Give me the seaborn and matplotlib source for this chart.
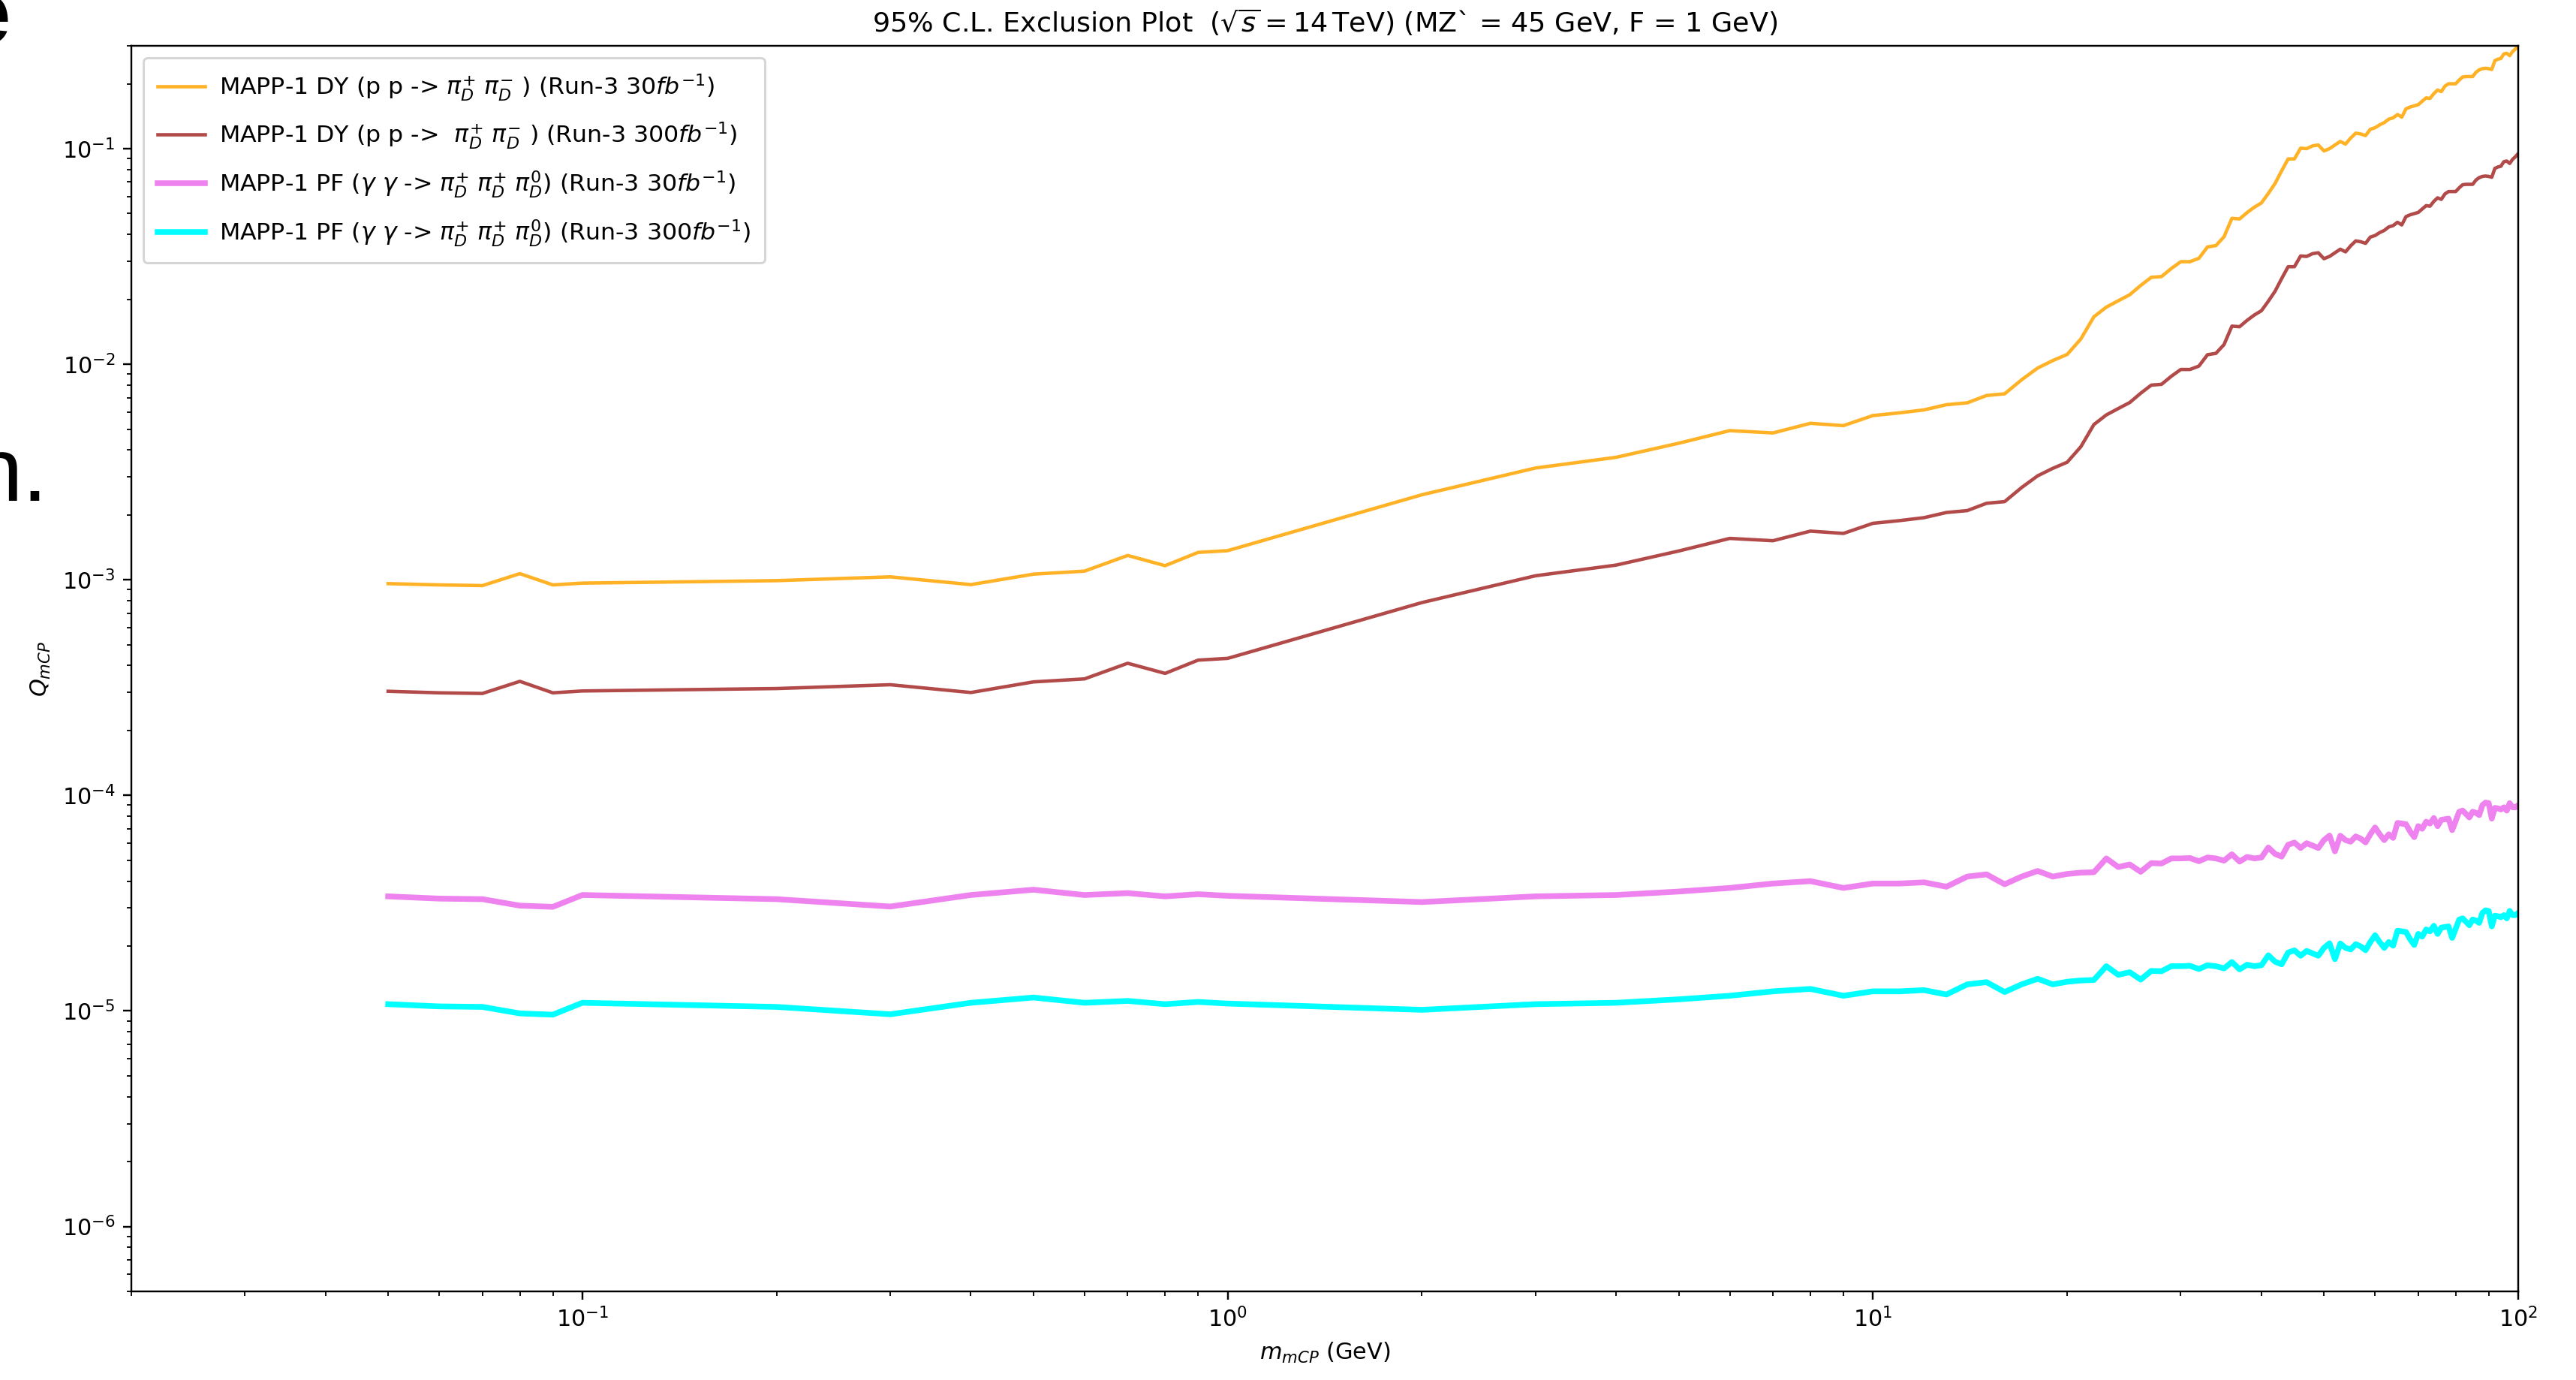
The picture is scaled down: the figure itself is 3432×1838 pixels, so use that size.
import numpy as np
import pandas as pd
import matplotlib
matplotlib.use("Agg")
import matplotlib.pyplot as plt
import seaborn as sns

# Mass grid (GeV)
mass_low = [0.05, 0.06, 0.07, 0.08, 0.09, 0.1, 0.2, 0.3, 0.4, 0.5, 0.6, 0.7, 0.8,
            0.9, 1.0, 2, 3, 4, 5, 6, 7, 8, 9]
mass_high = list(range(10, 101))
mass = mass_low + mass_high

# DY, Run-3 30 fb^-1 (units of 1e-3)
dy_30_low = [0.960, 0.947, 0.940, 1.068, 0.947, 0.965, 0.991, 1.032, 0.950, 1.062,
             1.097, 1.297, 1.163, 1.340, 1.365, 2.48, 3.30, 3.70, 4.30, 4.92, 4.80,
             5.32, 5.19]
dy_30_high = [5.78,
              5.95, 6.14, 6.49, 6.62, 7.16, 7.29, 8.47, 9.60, 10.4, 11.1,
              13.1, 16.6, 18.4, 19.7, 21.0, 23.2, 25.3, 25.5, 27.8, 29.9,
              29.9, 31.0, 35.0, 35.5, 39.0, 47.5, 47.2, 50.5, 53.5, 56.0,
              62.0, 69.0, 79.0, 89.6, 89.6, 100.5, 100.0, 103.0, 104.0, 97.6,
              100.0, 104.0, 108.0, 105.0, 112.0, 118.0, 117.0, 115.0, 123.0, 125.0,
              129.0, 132.0, 137.0, 139.0, 144.0, 140.0, 153.0, 156.0, 158.0, 160.0,
              166.0, 172.0, 171.0, 180.0, 187.0, 184.0, 195.0, 200.0, 200.0, 200.0,
              208.0, 215.0, 216.0, 216.0, 216.0, 226.0, 232.0, 235.0, 236.0, 235.0,
              233.0, 256.0, 260.0, 262.0, 275.0, 277.0, 270.0, 282.0, 290.0, 300.0]

# DY, Run-3 300 fb^-1 (units of 1e-3)
dy_300_low = [0.304, 0.299, 0.297, 0.338, 0.299, 0.305, 0.313, 0.326, 0.300, 0.336,
              0.347, 0.410, 0.368, 0.424, 0.432, 0.784, 1.044, 1.170, 1.360, 1.556,
              1.518, 1.682, 1.641]
dy_300_high = [1.828,
               1.882, 1.942, 2.052, 2.094, 2.264, 2.305, 2.679, 3.036, 3.289, 3.510,
               4.143, 5.250, 5.819, 6.230, 6.641, 7.337, 8.001, 8.065, 8.792, 9.456,
               9.456, 9.804, 11.07, 11.23, 12.33, 15.02, 14.93, 15.97, 16.92, 17.71,
               19.61, 21.82, 24.98, 28.34, 28.34, 31.78, 31.63, 32.57, 32.89, 30.87,
               31.63, 32.89, 34.16, 33.21, 35.42, 37.32, 37.00, 36.37, 38.90, 39.53,
               40.80, 41.75, 43.33, 43.96, 45.54, 44.28, 48.39, 49.34, 49.97, 50.60,
               52.50, 54.40, 54.08, 56.93, 59.14, 58.19, 61.67, 63.25, 63.25, 63.25,
               65.78, 68.00, 68.31, 68.31, 68.31, 71.47, 73.37, 74.32, 74.64, 74.32,
               73.69, 80.96, 82.23, 82.86, 86.97, 87.60, 85.39, 89.18, 91.71, 94.88]

# PF, Run-3 30 fb^-1 (units of 1e-5)
pf_30_low = [3.40, 3.32, 3.30, 3.08, 3.04, 3.45, 3.30, 3.05, 3.45, 3.65, 3.45, 3.52,
             3.40, 3.48, 3.42, 3.20, 3.40, 3.45, 3.58, 3.72, 3.90, 4.00, 3.72]
pf_30_high = [3.90,
              3.90, 3.95, 3.77, 4.20, 4.30, 3.87, 4.20, 4.46, 4.20, 4.32,
              4.38, 4.40, 5.10, 4.65, 4.78, 4.42, 4.85, 4.83, 5.10, 5.10,
              5.12, 4.95, 5.15, 5.10, 4.98, 5.33, 4.93, 5.18, 5.10, 5.15,
              5.73, 5.35, 5.20, 5.90, 6.04, 5.70, 6.00, 5.85, 5.70, 6.20,
              6.51, 5.50, 6.50, 6.20, 6.10, 6.45, 6.30, 6.05, 6.60, 7.10,
              6.60, 6.20, 6.60, 6.35, 7.45, 7.40, 7.35, 6.80, 6.40, 7.20,
              7.00, 7.55, 7.40, 7.85, 7.20, 7.70, 7.75, 7.80, 6.90, 7.60,
              8.39, 8.50, 8.20, 7.90, 8.40, 8.30, 8.10, 9.00, 9.26, 9.20,
              7.80, 8.75, 8.70, 8.60, 8.80, 8.50, 9.20, 8.80, 8.80, 9.00]

# PF, Run-3 300 fb^-1 (units of 1e-5)
pf_300_low = [1.075, 1.050, 1.044, 0.974, 0.961, 1.091, 1.044, 0.965, 1.091, 1.154,
              1.091, 1.113, 1.075, 1.101, 1.082, 1.012, 1.075, 1.091, 1.132, 1.176,
              1.233, 1.265, 1.176]
pf_300_high = [1.233,
               1.233, 1.249, 1.192, 1.328, 1.360, 1.224, 1.328, 1.410, 1.328, 1.366,
               1.385, 1.392, 1.613, 1.471, 1.512, 1.398, 1.534, 1.528, 1.613, 1.613,
               1.619, 1.565, 1.629, 1.613, 1.575, 1.686, 1.559, 1.638, 1.613, 1.629,
               1.812, 1.692, 1.645, 1.866, 1.910, 1.803, 1.898, 1.850, 1.803, 1.961,
               2.059, 1.739, 2.056, 1.961, 1.929, 2.040, 1.992, 1.913, 2.087, 2.245,
               2.087, 1.961, 2.087, 2.008, 2.356, 2.340, 2.324, 2.151, 2.024, 2.277,
               2.214, 2.388, 2.340, 2.483, 2.277, 2.435, 2.451, 2.467, 2.182, 2.404,
               2.653, 2.688, 2.593, 2.498, 2.657, 2.625, 2.562, 2.846, 2.929, 2.910,
               2.467, 2.767, 2.751, 2.720, 2.783, 2.688, 2.910, 2.783, 2.783, 2.846]

labels = [
    r"MAPP-1 DY (p p -> $\pi_D^{+}$ $\pi_D^{-}$ ) (Run-3 30$fb^{-1}$)",
    r"MAPP-1 DY (p p ->  $\pi_D^{+}$ $\pi_D^{-}$ ) (Run-3 300$fb^{-1}$)",
    r"MAPP-1 PF ($\gamma$ $\gamma$ -> $\pi_D^{+}$ $\pi_D^{+}$ $\pi_D^{0}$) (Run-3 30$fb^{-1}$)",
    r"MAPP-1 PF ($\gamma$ $\gamma$ -> $\pi_D^{+}$ $\pi_D^{+}$ $\pi_D^{0}$) (Run-3 300$fb^{-1}$)",
]
colors = ["orange", "brown", "violet", "cyan"]
widths = [1.5, 1.5, 2.5, 2.5]
alphas = [0.85, 0.85, 1.0, 1.0]

series = [
    np.array(dy_30_low + dy_30_high) * 1e-3,
    np.array(dy_300_low + dy_300_high) * 1e-3,
    np.array(pf_30_low + pf_30_high) * 1e-5,
    np.array(pf_300_low + pf_300_high) * 1e-5,
]

W, H, DPI = 3432, 1838, 218.88
fig = plt.figure(figsize=(W / DPI, H / DPI), dpi=DPI)
ax = fig.add_axes([175 / W, (H - 1720) / H, (3355 - 175) / W, (1720 - 61) / H])
ax.set_xscale("log")
ax.set_yscale("log")

for vals, lab, col, lw, al in zip(series, labels, colors, widths, alphas):
    df = pd.DataFrame({"mass": mass, "Q": vals})
    sns.lineplot(data=df, x="mass", y="Q", ax=ax, color=col, linewidth=lw,
                 alpha=al, label=lab, estimator=None, sort=False)

ax.set_xlim(0.02, 100)
ax.set_ylim(5e-7, 0.3)
ax.set_xlabel(r"$m_{mCP}$ (GeV)")
ax.set_ylabel(r"$Q_{mCP}$")
ax.set_title(r"95% C.L. Exclusion Plot  ($\sqrt{s} = 14\,\mathrm{TeV}$) (MZ` = 45 GeV, F = 1 GeV)",
             fontsize=12)
ax.legend(loc="upper left", fontsize=10.4, labelspacing=0.75, borderpad=0.6,
          handletextpad=0.6)

# Slide text running in from the left margin
fig.text(14 / W, 1 - 58 / H, "e", ha="right", va="baseline", fontsize=40,
         family="Liberation Sans", fontweight="bold")
fig.text(64 / W, 1 - 667 / H, "n.", ha="right", va="baseline", fontsize=40,
         family="Liberation Sans")

fig.savefig("out.png", dpi=DPI, facecolor="white")
